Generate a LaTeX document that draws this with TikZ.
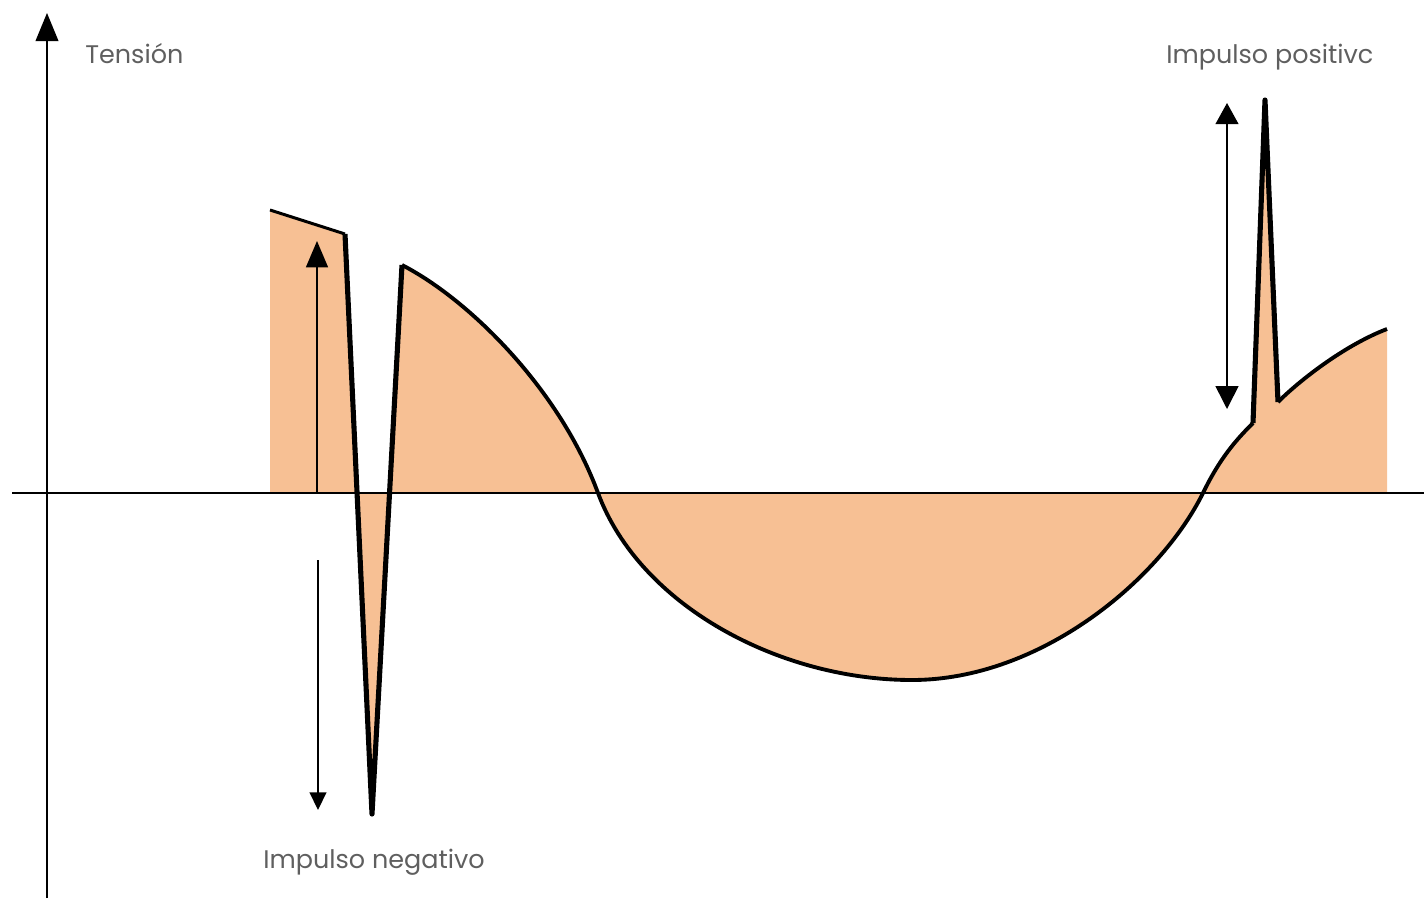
\documentclass[tikz,border=0pt]{standalone}
\usepackage{fontspec}
\newfontfamily\labelfont{Poppins}
\usetikzlibrary{arrows.meta}
\definecolor{peach}{RGB}{247,192,148}
\definecolor{labelgray}{RGB}{95,95,95}

\begin{document}
\begin{tikzpicture}[x=0.02cm, y=-0.02cm,
    axisline/.style={line width=0.8pt},
    waveline/.style={line width=2.2pt, line join=round},
    spikeline/.style={line width=2.9pt, line join=round},
    markarrow/.style={line width=0.9pt},
    axislabel/.style={font=\labelfont\fontsize{14.5}{17}\selectfont, text=labelgray, anchor=base west, inner sep=0pt}]
      \useasboundingbox (0,0) rectangle (1424,900);
      % axes
      \coordinate (O) at (12,493);
      \coordinate (X) at (1424,493);
      \coordinate (Yb) at (47,898);
      \coordinate (Yt) at (47,13);
      % impulse markers
      \coordinate (A1) at (317,493);
      \coordinate (A2) at (317,241);
      \coordinate (B1) at (318,560);
      \coordinate (B2) at (318,810);
      \coordinate (C1) at (1227,103);
      \coordinate (C2) at (1227,409);
      % waveform corners
      \coordinate (P) at (270,210);
      \coordinate (Q) at (345,234);
      \coordinate (N) at (372,814);
      \coordinate (R) at (402,265);
      \coordinate (Z1) at (598,493);
      \coordinate (M) at (912,680);
      \coordinate (Z2) at (1203,493);
      \coordinate (S) at (1253,423);
      \coordinate (T) at (1265,100);
      \coordinate (U) at (1278,402);
      \coordinate (V) at (1387,329);
      \fill[peach] (270,493) -- (P) -- (Q) -- (N) -- (R)
        .. controls (470,300) and (560,390) .. (Z1)
        .. controls (640,606) and (780,680) .. (M)
        .. controls (1040,680) and (1160,580) .. (Z2)
        .. controls (1220,458) and (1236,440) .. (S)
        -- (T) -- (U)
        .. controls (1300,380) and (1345,345) .. (V)
        -- (1387,493) -- cycle;
      \draw[axisline] (O) -- (X);
      \draw[axisline, -{Triangle[length=16pt, width=13pt]}] (Yb) -- (Yt);
      \draw[line width=1.7pt] (P) -- (Q);
      \draw[spikeline] (Q) -- (N) -- (R);
      \draw[waveline] (R) .. controls (470,300) and (560,390) .. (Z1)
        .. controls (640,606) and (780,680) .. (M)
        .. controls (1040,680) and (1160,580) .. (Z2)
        .. controls (1220,458) and (1236,440) .. (S);
      \draw[spikeline] (S) -- (T) -- (U);
      \draw[waveline] (U) .. controls (1300,380) and (1345,345) .. (V);
      \draw[markarrow, -{Triangle[length=15pt, width=12.5pt]}] (A1) -- (A2);
      \draw[markarrow, -{Triangle[length=10pt, width=9.5pt]}] (B1) -- (B2);
      \draw[markarrow, {Triangle[length=13pt, width=13pt]}-{Triangle[length=12pt, width=13pt]}] (C2) -- (C1);
      \node[axislabel] (tension) at (85,63) {Tensión};
      \node[axislabel] (pos) at (1166,63) {Impulso positivc};
      \node[axislabel] (neg) at (263,868) {Impulso negativo};
    \end{tikzpicture}
\end{document}
